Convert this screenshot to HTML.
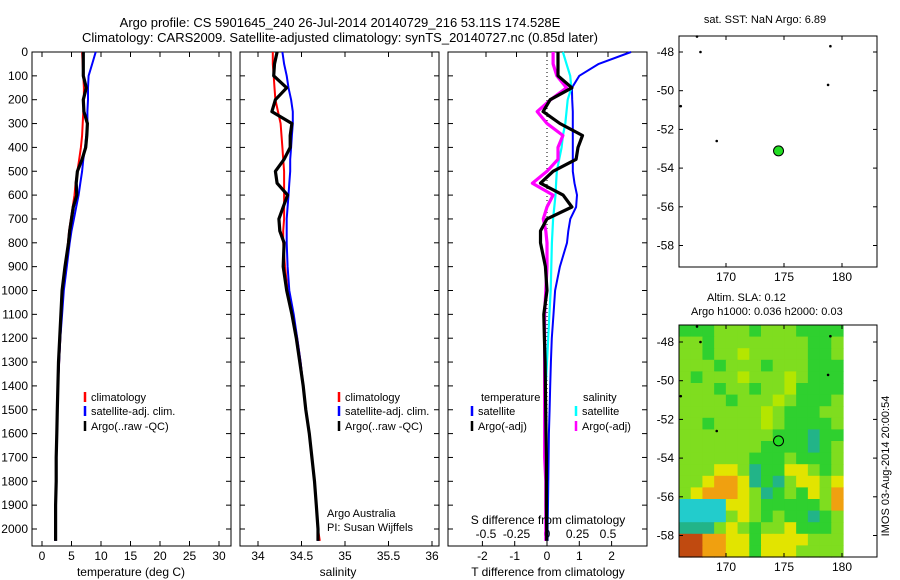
<!DOCTYPE html>
<html><head><meta charset="utf-8">
<style>
html,body{margin:0;padding:0;background:#fff;}
svg{display:block;font-family:"Liberation Sans",sans-serif;}
text{font-size:12px;fill:#000;}
</style></head>
<body>
<svg id="fig" width="900" height="580" viewBox="0 0 900 580" xmlns="http://www.w3.org/2000/svg">
<rect width="900" height="580" fill="#fff"/>
<text x="340" y="27" text-anchor="middle" style="font-size:13px">Argo profile: CS 5901645_240 26-Jul-2014 20140729_216 53.11S 174.528E</text>
<text x="340" y="42" text-anchor="middle" style="font-size:13px">Climatology: CARS2009. Satellite-adjusted climatology: synTS_20140727.nc (0.85d later)</text>
<g id="g"></g>
</svg>
<script>
// ---- data ----
const depths = [0,50,100,150,200,250,300,350,400,450,500,550,600,650,700,750,800,900,1000,1100,1200,1300,1400,1500,1600,1700,1800,1900,2000,2050];
const tempClim = [6.8,6.9,7.0,7.1,7.1,7.0,6.9,6.8,6.6,6.3,6.0,5.7,5.5,5.2,4.9,4.6,4.4,4.0,3.6,3.3,3.1,2.9,2.7,2.6,2.5,2.4,2.4,2.3,2.3,2.3];
const tempSat = [9.1,8.5,7.9,7.8,7.8,7.7,7.7,7.5,7.3,7.0,6.8,6.5,6.2,5.8,5.4,5.0,4.7,4.2,3.7,3.4,3.1,2.9,2.7,2.6,2.5,2.4,2.4,2.3,2.3,2.3];
const tempArgo = [7.0,7.0,7.0,7.5,7.0,7.1,7.7,7.6,7.4,6.8,6.0,5.8,5.9,5.3,5.0,4.7,4.5,3.9,3.4,3.2,3.0,2.8,2.7,2.6,2.5,2.4,2.4,2.3,2.3,2.3];
const salClim = [34.17,34.17,34.18,34.19,34.2,34.23,34.26,34.27,34.28,34.29,34.3,34.3,34.3,34.3,34.3,34.29,34.29,34.31,34.34,34.4,34.45,34.49,34.52,34.55,34.59,34.62,34.65,34.67,34.69,34.71];
const salSat = [34.28,34.3,34.33,34.35,34.38,34.4,34.4,34.39,34.38,34.37,34.37,34.36,34.35,34.34,34.33,34.33,34.33,34.34,34.36,34.41,34.45,34.49,34.52,34.55,34.59,34.62,34.65,34.67,34.69,34.69];
const salArgo = [34.22,34.19,34.18,34.33,34.2,34.16,34.39,34.37,34.37,34.3,34.2,34.22,34.34,34.29,34.24,34.25,34.3,34.29,34.33,34.39,34.44,34.48,34.52,34.55,34.59,34.62,34.65,34.67,34.69,34.69];
const dTsat = [2.6,1.6,1.0,0.77,0.78,0.8,0.8,0.8,0.8,0.8,0.8,0.85,0.93,0.9,0.72,0.66,0.62,0.4,0.25,0.2,0.15,0.12,0.1,0.08,0.06,0.05,0.04,0.03,0.02,0.02];
const dTargo = [0.34,0.34,0.34,0.77,0.1,-0.12,0.4,1.1,0.96,0.9,0.19,-0.2,0.5,0.77,0.0,-0.2,-0.2,-0.05,0.0,-0.1,-0.08,-0.06,-0.05,-0.04,-0.03,-0.02,-0.02,-0.02,-0.01,-0.01];
const dSsat = [0.13,0.16,0.19,0.2,0.17,0.16,0.15,0.13,0.12,0.1,0.08,0.075,0.07,0.06,0.05,0.045,0.04,0.035,0.03,0.02,0.01,0.0,-0.01,-0.01,-0.01,-0.01,0.0,0.0,0.0,0.0];
const dSargo = [0.05,0.05,0.08,0.16,0.03,-0.08,0.0,0.13,0.09,0.09,0.0,-0.12,0.05,0.0,-0.03,-0.01,0.0,0.0,-0.01,-0.02,-0.02,-0.02,-0.02,-0.02,-0.02,-0.02,-0.01,-0.01,-0.01,-0.01];
const depthTicks = [0,100,200,300,400,500,600,700,800,900,1000,1100,1200,1300,1400,1500,1600,1700,1800,1900,2000];
const tempTicks = [0,5,10,15,20,25,30];
const salTicks = [34,34.5,35,35.5,36];
const salTickLabels = ["34","34.5","35","35.5","36"];
const dTTicks = [-2,-1,0,1,2];
const dSTicks = [-0.5,-0.25,0,0.25,0.5];
const dSTickLabels = ["-0.5","-0.25","0","0.25","0.5"];
const lonTicks = [170,175,180];
const latTicks = [-48,-50,-52,-54,-56,-58];
const argoLon = 174.528, argoLat = -53.11;
const slaGrid = [
"GGGLLLGLLLGGGG","LLGLLLLLLLLGGL","LLGLLYLLLLLGGL","LLLGLLLGLLLGGG","LGLLLYLLLYLGGG",
"LLLGLLGLLYGGGG","LLLLGLLLYLGGGL","LLLLLLLYLGGGLL","LLGLLLLYLGGGGL","LLLLLLLLGGGTGG",
"LLLLLLLGGGGTGL","LLLLLLGGGLGGGL","LLLyyLTGGyyLGL","LLyOOyTGTLyyLy","LyOOOyLTGLGyLO",
"CCCCyyLGGGGGLO","CCCCLyLGLGGTGL","TTTLyLGLLyGGGL","RROOyyGyyyyLLL","RROOyyGyyyLLLL"];
const slaColors = {G:"#2fd02f",L:"#7fdd1f",Y:"#b4e600",y:"#e2e400",O:"#f0a010",R:"#c04a10",C:"#22cccc",T:"#22b488"};

// ---- helpers ----
const NS="http://www.w3.org/2000/svg";
const G=document.getElementById('g');
function el(tag,attrs,parent){const e=document.createElementNS(NS,tag);for(const k in attrs)e.setAttribute(k,attrs[k]);(parent||G).appendChild(e);return e;}
function txt(s,x,y,anchor,name,size){const t=el('text',{x:x,y:y,'text-anchor':anchor||'start'});if(size)t.style.fontSize=size+'px';t.textContent=s;return t;}
const yD = d => 52 + d*0.2385;
const PT=52, PB=546;

function panel(x0,x1,name){
  const r=el('rect',{x:x0,y:PT,width:x1-x0,height:PB-PT,fill:'none',stroke:'#000','stroke-width':1});
  
  
  depthTicks.forEach(d=>{const y=yD(d);
    el('line',{x1:x0,y1:y,x2:x0+5,y2:y,stroke:'#000'});
    el('line',{x1:x1-5,y1:y,x2:x1,y2:y,stroke:'#000'});});
}
function line(xs,xf,color,w,name,dash){
  const pts=depths.map((d,i)=>xf(xs[i]).toFixed(1)+','+yD(d).toFixed(1)).join(' ');
  const p=el('polyline',{points:pts,fill:'none',stroke:color,'stroke-width':w,'stroke-linejoin':'round'});
  if(dash)p.setAttribute('stroke-dasharray',dash);
  
  
}
function legend(x,y,color,label,name){
  const l=el('line',{x1:x,y1:y-9,x2:x,y2:y+1,stroke:color,'stroke-width':2.5});
  
  
  txt(label,x+6,y,'start',name,11);
}

// depth labels
depthTicks.forEach(d=>txt(String(d),28,yD(d)+4,'end','depth-tick-label',12));

// Panel 1 temperature
const xT = t => 42 + t*5.9;
panel(32,231,'temperature-panel');
tempTicks.forEach(t=>{const x=xT(t);el('line',{x1:x,y1:PT,x2:x,y2:PT+5,stroke:'#000'});el('line',{x1:x,y1:PB-5,x2:x,y2:PB,stroke:'#000'});txt(String(t),x,560,'middle','temperature-tick-label',12);});
line(tempClim,xT,'#f00',2,'temp-climatology-line');
line(tempSat,xT,'#00f',2,'temp-satellite-line');
line(tempArgo,xT,'#000',3.2,'temp-argo-line');
txt('temperature (deg C)',131,576,'middle','temperature-axis-title',12);
legend(85,401,'#f00','climatology','legend-climatology-1');
legend(85,415,'#00f','satellite-adj. clim.','legend-satellite-1');
legend(85,430,'#000','Argo(..raw -QC)','legend-argo-1');

// Panel 2 salinity
const xS = s => 258 + (s-34)*87;
panel(240,439,'salinity-panel');
salTicks.forEach((s,i)=>{const x=xS(s);el('line',{x1:x,y1:PT,x2:x,y2:PT+5,stroke:'#000'});el('line',{x1:x,y1:PB-5,x2:x,y2:PB,stroke:'#000'});txt(salTickLabels[i],x,560,'middle','salinity-tick-label',12);});
line(salClim,xS,'#f00',2,'sal-climatology-line');
line(salSat,xS,'#00f',2,'sal-satellite-line');
line(salArgo,xS,'#000',3.2,'sal-argo-line');
txt('salinity',338,576,'middle','salinity-axis-title',12);
legend(339,401,'#f00','climatology','legend-climatology-2');
legend(339,415,'#00f','satellite-adj. clim.','legend-satellite-2');
legend(339,430,'#000','Argo(..raw -QC)','legend-argo-2');
txt('Argo Australia',327,517,'start','credit-argo-australia',11);
txt('PI: Susan Wijffels',327,531,'start','credit-pi',11);

// Panel 3 differences
const xdT = t => 547 + t*32.3;
const xdS = s => 547 + s*122;
panel(448,647,'difference-panel');
el('line',{x1:547,y1:PT,x2:547,y2:PB,stroke:'#000','stroke-dasharray':'1,3'});
dTTicks.forEach(t=>{const x=xdT(t);el('line',{x1:x,y1:PB-5,x2:x,y2:PB,stroke:'#000'});txt(String(t),x,560,'middle','t-diff-tick-label',12);});
dSTicks.forEach((s,i)=>{const x=xdS(s);el('line',{x1:x,y1:PT,x2:x,y2:PT+5,stroke:'#000'});txt(dSTickLabels[i],x,538,'middle','s-diff-tick-label',12);});
line(dTsat,xdT,'#00f',2,'t-diff-satellite-line');
line(dSsat,xdS,'#0ff',2.2,'s-diff-satellite-line');
line(dSargo,xdS,'#f0f',3.2,'s-diff-argo-line');
line(dTargo,xdT,'#000',3.2,'t-diff-argo-line');
txt('S difference from climatology',548,524,'middle','s-diff-axis-title',12);
txt('T difference from climatology',548,576,'middle','t-diff-axis-title',12);
txt('temperature',481,401,'start','legend-temperature-header',11);
txt('salinity',583,401,'start','legend-salinity-header',11);
legend(472,415,'#00f','satellite','legend-t-satellite');
legend(472,430,'#000','Argo(-adj)','legend-t-argo');
legend(576,415,'#0ff','satellite','legend-s-satellite');
legend(576,430,'#f0f','Argo(-adj)','legend-s-argo');

// Maps
function map(top,bottom,lat0y,name,heat){
  const L=679,R=877;
  const latS=(bottom-top)/ (232/19.3);
  const xL = lon => 726 + (lon-170)*11.6;
  const yL = lat => lat0y + (-48-lat)*19.35;
  if(heat){
    const cw=(xL(180)+1-L)/slaGrid[0].length, ch=(bottom-top)/slaGrid.length;
    slaGrid.forEach((row,r)=>{for(let c=0;c<row.length;c++){
      const cell=el('rect',{x:(L+c*cw).toFixed(2),y:(top+r*ch).toFixed(2),width:(cw+0.6).toFixed(2),height:(ch+0.6).toFixed(2),fill:slaColors[row[c]]});
      
      
    }});
  }
  const fr=el('rect',{x:L,y:top,width:R-L,height:bottom-top,fill:'none',stroke:'#000'});
  
  
  lonTicks.forEach(l=>{const x=xL(l);el('line',{x1:x,y1:top,x2:x,y2:top+4,stroke:'#000'});el('line',{x1:x,y1:bottom-4,x2:x,y2:bottom,stroke:'#000'});txt(String(l),x,bottom+14,'middle','lon-tick-label',12);});
  latTicks.forEach(l=>{const y=yL(l);el('line',{x1:L,y1:y,x2:L+4,y2:y,stroke:'#000'});el('line',{x1:R-4,y1:y,x2:R,y2:y,stroke:'#000'});txt(String(l),L-5,y+4,'end','lat-tick-label',12);});
  // coastline specks
  [[167.5,-47.2],[178.8,-49.7],[166.1,-50.8],[169.2,-52.6],[167.8,-48.0],[179,-47.7]].forEach(p=>el('circle',{cx:xL(p[0]),cy:yL(p[1]),r:1.3,fill:'#000'}));
  const m=el('circle',{cx:xL(argoLon),cy:yL(argoLat),r:5,fill:'#22dd22',stroke:'#000','stroke-width':1});
  
  
}
map(36,267,52,'sst-map',false);
txt('sat. SST: NaN Argo: 6.89',765,23,'middle','sst-map-title',11);
map(325,557,342,'sla-map',true);
txt('Altim. SLA: 0.12',707,301,'start','sla-map-title',11);
txt('Argo h1000: 0.036 h2000: 0.03',691,315,'start','sla-map-subtitle',11);
const v=txt('IMOS 03-Aug-2014 20:00:54',0,0,'middle','imos-timestamp',11);
v.setAttribute('transform','translate(889,466) rotate(-90)');
</script>
</body></html>
